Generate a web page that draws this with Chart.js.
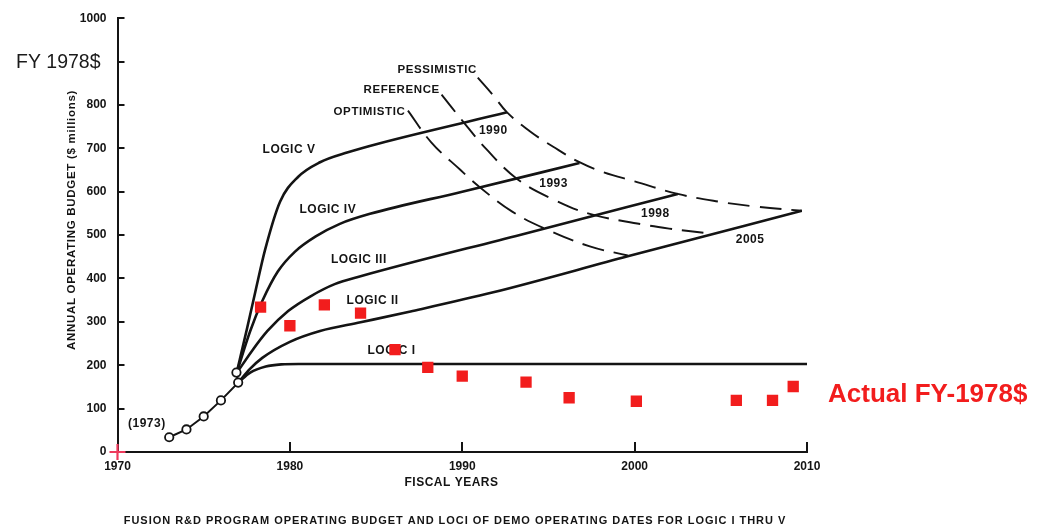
<!DOCTYPE html>
<html>
<head>
<meta charset="utf-8">
<script src="https://cdn.jsdelivr.net/npm/chart.js@4.4.0/dist/chart.umd.min.js"></script>
<style>
  html, body { margin: 0; padding: 0; background: #ffffff; }
  #wrap { width: 1046px; height: 529px; position: relative; }
  canvas { display: block; }
</style>
</head>
<body>
<div id="wrap"><canvas id="c" width="1046" height="529"></canvas></div>
<script>
// ---- Data (FY 1978 $ millions) ----
// Historical operating budget, FY 1973-1977 (last entry: second 1977 estimate)
const historyYears  = [1973, 1974, 1975, 1976, 1977, 1976.9];
const historyBudget = [34, 52, 82, 119, 160, 183];

// Projected budget paths for Logic I - V
const logic1Years  = [1977, 1977.7, 1978.6, 1979.5, 1980.5, 2010];
const logic1Budget = [160, 183, 197, 202, 203, 203];

const logic2Years  = [1977, 1977.7, 1978.4, 1980.0, 1981.75, 1984.1, 1987.0, 1991.8, 1999.6, 2009.7];
const logic2Budget = [160, 192, 217, 254, 279, 299, 324, 368, 451, 556];

const logic3Years  = [1976.9, 1977.8, 1978.7, 1979.9, 1981.2, 1982.6, 1984.1, 1993.4, 2002.5];
const logic3Budget = [181, 233, 279, 325, 359, 387, 405, 501, 595];

const logic4Years  = [1976.9, 1977.7, 1978.4, 1979.3, 1980.3, 1981.5, 1982.9, 1984.65, 1990.0, 1996.8];
const logic4Budget = [181, 279, 348, 416, 462, 497, 526, 549, 600, 666];

const logic5Years  = [1976.9, 1977.5, 1978.0, 1978.56, 1979.43, 1980.47, 1981.75, 1983.37, 1985.23, 1992.6];
const logic5Budget = [181, 282, 370, 466, 577, 634, 668, 691, 712, 783];

// Loci of DEMO operating dates
const optimisticYears  = [1986.85, 1988.2, 1989.9, 1991.0, 1992.9, 1994.9, 1997.4, 1999.6];
const optimisticBudget = [787, 714, 650, 611, 554, 513, 474, 453];

const referenceYears  = [1988.8, 1990.0, 1991.4, 1993.2, 1995.3, 1997.4, 2000.4, 2002.0, 2004.5];
const referenceBudget = [824, 764, 698, 629, 582, 549, 525, 515, 503];

const pessimisticYears  = [1990.9, 1991.8, 1992.6, 1993.9, 1995.3, 1996.8, 1998.2, 2000.0, 2002.5, 2004.9, 2007.0, 2009.7];
const pessimisticBudget = [863, 822, 783, 740, 703, 668, 645, 624, 595, 577, 566, 556];

// Actual spending, converted to FY-1978 dollars
const actualYears  = [1978.3, 1980.0, 1982.0, 1984.1, 1986.1, 1988.0, 1990.0, 1993.7, 1996.2, 2000.1, 2005.9, 2008.0, 2009.2];
const actualBudget = [334, 291, 339, 320, 236, 195, 175, 161, 125, 117, 119, 119, 151];

// Axis ticks and their labels (the 900 position carries the unit note instead)
const xTickValues = [1970, 1980, 1990, 2000, 2010];
const xTickLabels = ['1970', '1980', '1990', '2000', '2010'];
const yTickValues = [0, 100, 200, 300, 400, 500, 600, 700, 800, 900, 1000];
const yTickLabels = ['0', '100', '200', '300', '400', '500', '600', '700', '800', '', '1000'];

// ---- Helpers ----
const FONT = '"Liberation Sans", Arial, Helvetica, sans-serif';
const INK = '#141414';
const RED = '#f21d1d';

function points(xs, ys) { return xs.map((x, i) => ({ x: x, y: ys[i] })); }

function solidCurve(label, xs, ys) {
  return {
    label: label, data: points(xs, ys), showLine: true,
    borderColor: INK, borderWidth: 2.6, pointRadius: 0,
    cubicInterpolationMode: 'monotone', fill: false, order: 3
  };
}
function dashedCurve(label, xs, ys) {
  return {
    label: label, data: points(xs, ys), showLine: true,
    borderColor: INK, borderWidth: 1.9, borderDash: [22, 10], pointRadius: 0,
    tension: 0.4, fill: false, order: 4
  };
}

// Labels placed in data coordinates
const curveLabels = [
  { text: 'LOGIC V',   x: 1979.95, y: 698 },
  { text: 'LOGIC IV',  x: 1982.2,  y: 558 },
  { text: 'LOGIC III', x: 1984.0,  y: 444 },
  { text: 'LOGIC II',  x: 1984.8,  y: 348 },
  { text: 'LOGIC I',   x: 1985.9,  y: 233 },
  { text: '1990', x: 1991.8, y: 741 },
  { text: '1993', x: 1995.3, y: 618 },
  { text: '1998', x: 2001.2, y: 549 },
  { text: '2005', x: 2006.7, y: 490 },
  { text: '(1973)', x: 1971.7, y: 66 }
];
const scenarioLabels = [
  { text: 'OPTIMISTIC',  x: 1986.7,  y: 785 },
  { text: 'REFERENCE',   x: 1988.7,  y: 835 },
  { text: 'PESSIMISTIC', x: 1990.85, y: 881 }
];

function drawText(ctx, text, x, y, font, color, align, spacing) {
  ctx.save();
  ctx.font = font;
  ctx.fillStyle = color;
  ctx.textAlign = align || 'center';
  ctx.textBaseline = 'middle';
  if ('letterSpacing' in ctx) ctx.letterSpacing = spacing || '0px';
  ctx.fillText(text, x, y);
  ctx.restore();
}

const annotations = {
  id: 'annotations',
  beforeDatasetsDraw(chart) {
    const { ctx, scales: { x, y } } = chart;
    const small = 'bold 12px ' + FONT;
    curveLabels.forEach(l => drawText(ctx, l.text, x.getPixelForValue(l.x), y.getPixelForValue(l.y), small, INK, 'center', '0.5px'));
    scenarioLabels.forEach(l => drawText(ctx, l.text, x.getPixelForValue(l.x), y.getPixelForValue(l.y), 'bold 11.5px ' + FONT, INK, 'right', '0.6px'));
  },
  afterDraw(chart) {
    const { ctx, chartArea, scales: { x, y } } = chart;
    // inward tick marks
    ctx.save();
    ctx.strokeStyle = INK;
    ctx.lineWidth = 2;
    ctx.beginPath();
    yTickValues.forEach(v => {
      if (v === 0) return;
      const py = Math.round(y.getPixelForValue(v));
      ctx.moveTo(chartArea.left, py);
      ctx.lineTo(chartArea.left + 7, py);
    });
    xTickValues.forEach(v => {
      if (v === 1970) return;
      const px = Math.round(x.getPixelForValue(v));
      ctx.moveTo(px, chartArea.bottom);
      ctx.lineTo(px, chartArea.bottom - 10);
    });
    ctx.stroke();
    ctx.restore();

    // axis titles, units and caption
    drawText(ctx, 'FISCAL YEARS', 451.5, 483, 'bold 12px ' + FONT, INK, 'center', '0.5px');
    drawText(ctx, 'FUSION R&D PROGRAM OPERATING BUDGET AND LOCI OF DEMO OPERATING DATES FOR LOGIC I THRU V',
      455, 521, 'bold 11px ' + FONT, INK, 'center', '0.97px');
    ctx.save();
    ctx.translate(72, 220);
    ctx.rotate(-Math.PI / 2);
    drawText(ctx, 'ANNUAL OPERATING BUDGET ($ millions)', 0, 0, 'bold 11.5px ' + FONT, INK, 'center', '0.7px');
    ctx.restore();
    drawText(ctx, 'FY 1978$', 16, 63, '19.5px ' + FONT, '#1a1a1a', 'left');
    drawText(ctx, 'Actual FY-1978$', 828, 395, 'bold 26px ' + FONT, RED, 'left');
  }
};

new Chart(document.getElementById('c'), {
  type: 'scatter',
  data: {
    datasets: [
      {
        label: 'Actual FY-1978$', data: points(actualYears, actualBudget),
        pointStyle: 'rect', pointRadius: 8, backgroundColor: RED, borderWidth: 0,
        showLine: false, order: 0
      },
      {
        label: 'Origin', data: [{ x: 1970, y: 0 }],
        pointStyle: 'cross', pointRadius: 8, borderColor: '#ee3a5c', pointBorderWidth: 2.2,
        showLine: false, clip: false, order: 0
      },
      {
        label: 'History', data: points(historyYears, historyBudget), showLine: true,
        borderColor: INK, borderWidth: 2, tension: 0,
        pointStyle: 'circle', pointRadius: 4.2, pointBackgroundColor: '#ffffff',
        pointBorderColor: INK, pointBorderWidth: 1.8, order: 1
      },
      solidCurve('Logic I', logic1Years, logic1Budget),
      solidCurve('Logic II', logic2Years, logic2Budget),
      solidCurve('Logic III', logic3Years, logic3Budget),
      solidCurve('Logic IV', logic4Years, logic4Budget),
      solidCurve('Logic V', logic5Years, logic5Budget),
      dashedCurve('Optimistic', optimisticYears, optimisticBudget),
      dashedCurve('Reference', referenceYears, referenceBudget),
      dashedCurve('Pessimistic', pessimisticYears, pessimisticBudget)
    ]
  },
  options: {
    responsive: false,
    animation: false,
    devicePixelRatio: 1,
    layout: { autoPadding: false, padding: { left: 0, top: 15, right: 239, bottom: 0 } },
    plugins: { legend: { display: false }, tooltip: { enabled: false }, title: { display: false } },
    scales: {
      x: {
        type: 'linear', min: 1970, max: 2010,
        afterBuildTicks: s => { s.ticks = xTickValues.map(v => ({ value: v })); },
        afterFit: s => { s.height = 77; },
        ticks: {
          font: { family: FONT, size: 12, weight: 'bold' }, color: INK, padding: 7,
          maxRotation: 0, autoSkip: false,
          callback: v => xTickLabels[xTickValues.indexOf(v)]
        },
        grid: { drawOnChartArea: false, drawTicks: false },
        border: { display: true, color: INK, width: 2 }
      },
      y: {
        type: 'linear', min: 0, max: 1000,
        afterBuildTicks: s => { s.ticks = yTickValues.map(v => ({ value: v })); },
        afterFit: s => { s.width = 117.5; },
        ticks: {
          font: { family: FONT, size: 12, weight: 'bold' }, color: INK, padding: 11, autoSkip: false,
          callback: v => yTickLabels[yTickValues.indexOf(v)]
        },
        grid: { drawOnChartArea: false, drawTicks: false },
        border: { display: true, color: INK, width: 2 }
      }
    }
  },
  plugins: [annotations]
});
</script>
</body>
</html>
